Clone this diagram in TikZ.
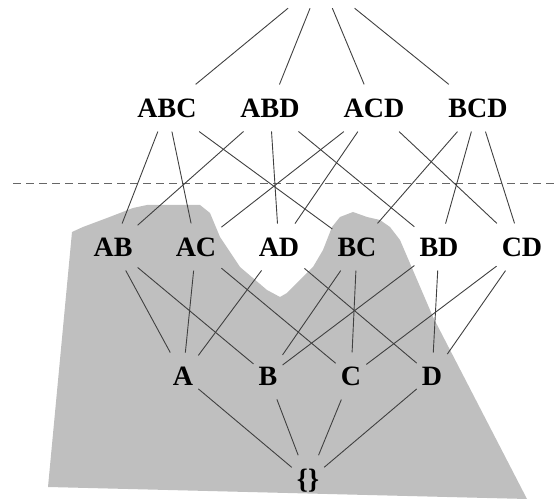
\documentclass[tikz,border=0pt]{standalone}
\usepackage{fontspec}
\setmainfont{Liberation Serif}
\usetikzlibrary{positioning}
\definecolor{regiongray}{gray}{0.75}

\begin{document}
\begin{tikzpicture}[x=1pt, y=-1pt,
                   edge/.style={draw=black!75, line width=0.9pt},
                   cut/.style={draw=black!60, line width=0.9pt,
                   dash pattern=on 8pt off 5pt},
                   every node/.style = {shape=rectangle,
                   align=center,
                   font=\fontsize{28}{30}\selectfont\bfseries,
                   inner xsep=5pt, inner ysep=14pt}]
  \clip (0,0) rectangle (555,502);
  % shaded region
  \fill[regiongray] (48,487) -- (72,232) -- (83,227) -- (107,218) -- (133,208)
    -- (147,205) -- (200,205) -- (210,213) -- (220,237) -- (240,267)
    -- (267,290) -- (280,297) -- (287,293) -- (300,280) -- (313,267)
    -- (323,250) -- (332,227) -- (340,217) -- (353,212) -- (367,217)
    -- (380,220) -- (390,227) -- (400,240) -- (433,317) -- (527,499)
    -- cycle;
  % dashed cut
  \coordinate (cutl) at (13,183);
  \coordinate (cutr) at (555,183);
  \draw[cut] (cutl) -- (cutr);
  % top, out of view
  \node[minimum width=84pt, minimum height=54pt] (abcd) at (321,-19) {};
  \node (abc) at (167,108) {ABC};
  \node (abd) at (270,108) {ABD};
  \node (acd) at (374,108) {ACD};
  \node (bcd) at (478,108) {BCD};
  \node (ab) at (113,247) {AB};
  \node (ac) at (196,247) {AC};
  \node (ad) at (279,247) {AD};
  \node (bc) at (357,247) {BC};
  \node (bd) at (439,247) {BD};
  \node (cd) at (522,247) {CD};
  \node (a) at (183,376) {A};
  \node (b) at (268,376) {B};
  \node (c) at (351,376) {C};
  \node (d) at (432,376) {D};
  \node (none) at (308,481) {\{\}};
  \foreach \u/\v in {abcd/abc, abcd/abd, abcd/acd, abcd/bcd,
                     abc/ab, abc/ac, abc/bc, abd/ab, abd/ad, abd/bd,
                     acd/ac, acd/ad, acd/cd, bcd/bc, bcd/bd, bcd/cd,
                     ab/a, ab/b, ac/a, ac/c, ad/a, ad/d,
                     bc/b, bc/c, bd/b, bd/d, cd/c, cd/d,
                     a/none, b/none, c/none, d/none}
    \draw[edge] (\u) -- (\v);
\end{tikzpicture}
\end{document}
